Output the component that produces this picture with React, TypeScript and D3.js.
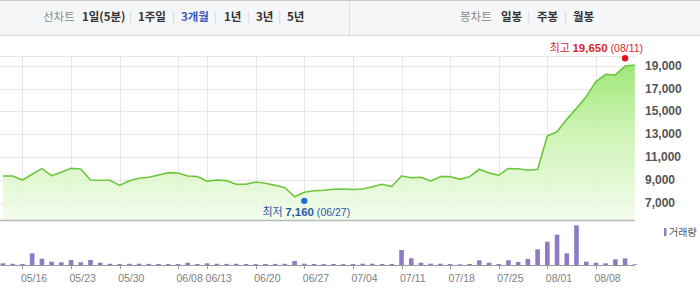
import React from "react";
import * as d3 from "d3";

const dates: string[] = [
  "05/12","05/13","05/16","05/17","05/18","05/19","05/20","05/23","05/24","05/25",
  "05/26","05/27","05/30","05/31","06/01","06/02","06/03","06/07","06/08","06/09",
  "06/10","06/13","06/14","06/15","06/16","06/17","06/20","06/21","06/22","06/23",
  "06/24","06/27","06/28","06/29","06/30","07/01","07/04","07/05","07/06","07/07",
  "07/08","07/11","07/12","07/13","07/14","07/15","07/18","07/19","07/20","07/21",
  "07/22","07/25","07/26","07/27","07/28","07/29","08/01","08/02","08/03","08/04",
  "08/05","08/08","08/09","08/10","08/11","08/12",
];

const closes: number[] = [
  9340, 9340, 8990, 9490, 9980, 9365, 9660, 10010, 9950, 8990,
  8960, 8960, 8520, 8930, 9140, 9225, 9430, 9630, 9600, 9340,
  9300, 8880, 8990, 8930, 8610, 8610, 8810, 8700, 8520, 8310,
  7530, 7910, 8050, 8090, 8175, 8200, 8160, 8200, 8400, 8610,
  8420, 9340, 9180, 9225, 8900, 9280, 9280, 9060, 9280, 9930,
  9600, 9410, 10000, 9970, 9840, 9930, 12840, 13220, 14300, 15270,
  16290, 17600, 18250, 18190, 18970, 19060,
];

const volumes: number[] = [
  170, 120, 100, 1170, 630, 330, 270, 500, 270, 500,
  230, 120, 100, 120, 130, 110, 100, 110, 100, 230,
  100, 170, 120, 110, 120, 100, 90, 100, 110, 120,
  400, 130, 100, 90, 100, 90, 100, 130, 130, 100,
  100, 1500, 670, 230, 130, 130, 100, 70, 100, 470,
  230, 100, 470, 300, 600, 1570, 2330, 3030, 1170, 3970,
  330, 230, 170, 570, 670, 70,
];

const tickDates: string[] = ["05/16","05/23","05/30","06/08","06/13","06/20","06/27","07/04","07/11","07/18","07/25","08/01","08/08"];
const priceTicks: number[] = [7000, 9000, 11000, 13000, 15000, 17000, 19000];

const maxInfo = { label: "최고", value: 19650, date: "08/11" };
const minInfo = { label: "최저", value: 7160, date: "06/27" };

const leftMenu: { t: string; x: number; kind: string }[] = [
  { t: "선차트", x: 43, kind: "title" },
  { t: "1일(5분)", x: 82, kind: "item" },
  { t: "|", x: 129, kind: "sep" },
  { t: "1주일", x: 138, kind: "item" },
  { t: "|", x: 172, kind: "sep" },
  { t: "3개월", x: 181, kind: "active" },
  { t: "|", x: 214, kind: "sep" },
  { t: "1년", x: 224, kind: "item" },
  { t: "|", x: 247, kind: "sep" },
  { t: "3년", x: 256, kind: "item" },
  { t: "|", x: 278, kind: "sep" },
  { t: "5년", x: 287, kind: "item" },
];
const rightMenu: { t: string; x: number; kind: string }[] = [
  { t: "봉차트", x: 460, kind: "title" },
  { t: "일봉", x: 501, kind: "item" },
  { t: "|", x: 527, kind: "sep" },
  { t: "주봉", x: 537, kind: "item" },
  { t: "|", x: 564, kind: "sep" },
  { t: "월봉", x: 573, kind: "item" },
];

const W = 700;
const H = 303;
const plotLeft = 0;
const plotRight = 635;
const priceTop = 56;
const priceBottom = 220;
const volBase = 265;

export default function App() {
  const x = d3.scalePoint<string>().domain(dates).range([3, 634.8]);
  const y = d3.scaleLinear().domain([7000, 19000]).range([202.7, 65.7]);
  const yv = d3.scaleLinear().domain([0, 4000]).range([volBase, volBase - 40]);

  const pts = dates.map((d, i) => ({ d, v: closes[i] }));
  const line = d3.line<{ d: string; v: number }>().x((p) => x(p.d)!).y((p) => y(p.v));
  const area = d3
    .area<{ d: string; v: number }>()
    .x((p) => x(p.d)!)
    .y0(priceBottom)
    .y1((p) => y(p.v));

  const font = "'Noto Sans CJK KR', 'Noto Sans', sans-serif";
  const menuColor = (k: string) =>
    k === "title" ? "#8a8a8a" : k === "active" ? "#3b5bb5" : k === "sep" ? "#d5d5d5" : "#333";

  const maxX = x(maxInfo.date)!;
  const minX = x(minInfo.date)!;

  return (
    <svg
      width={W}
      height={H}
      style={{ position: "absolute", left: 0, top: 0, background: "#fff" }}
      fontFamily={font}
    >
      <defs>
        <linearGradient id="gfill" gradientUnits="userSpaceOnUse" x1="0" y1={priceTop + 6} x2="0" y2={priceBottom}>
          <stop offset="0%" stopColor="#8ee25e" />
          <stop offset="45%" stopColor="#c6f2aa" />
          <stop offset="100%" stopColor="#f1fcea" />
        </linearGradient>
      </defs>

      {/* top menu bar */}
      <rect x={0} y={0} width={W} height={36} fill="#f5f6f8" />
      <line x1={0} x2={W} y1={0.5} y2={0.5} stroke="#c8c8c8" />
      <line x1={0} x2={W} y1={35.5} y2={35.5} stroke="#dcdcdc" />
      <line x1={349.5} x2={349.5} y1={0} y2={35} stroke="#dcdcdc" />
      {[...leftMenu, ...rightMenu].map((m, i) => (
        <text
          key={i}
          x={m.x}
          y={21}
          fontSize={11.5}
          fontWeight={m.kind === "item" || m.kind === "active" ? 700 : 400}
          fill={menuColor(m.kind)}
        >
          {m.t}
        </text>
      ))}

      {/* price grid */}
      <line x1={plotLeft} x2={plotRight} y1={priceTop + 0.5} y2={priceTop + 0.5} stroke="#e8e8e8" />
      {priceTicks.map((t) => (
        <line key={t} x1={plotLeft} x2={plotRight} y1={Math.round(y(t)) + 0.5} y2={Math.round(y(t)) + 0.5} stroke="#e8e8e8" />
      ))}
      {tickDates.map((d) => (
        <line
          key={d}
          x1={Math.round(x(d)!) + 0.5}
          x2={Math.round(x(d)!) + 0.5}
          y1={priceTop}
          y2={priceBottom}
          stroke="#e6e6e6"
        />
      ))}

      {/* area and line */}
      <path d={area(pts)!} fill="url(#gfill)" opacity={0.85} />
      <path d={line(pts)!} fill="none" stroke="#6cc63c" strokeWidth={1.6} strokeLinejoin="round" />

      {/* price axis labels */}
      {priceTicks.map((t) => (
        <text
          key={t}
          x={645}
          y={y(t) + 4}
          fontSize={12}
          fontWeight={700}
          fill="#555"
          fontFamily="'Liberation Sans', Arial, sans-serif"
        >
          {d3.format(",")(t)}
        </text>
      ))}

      {/* max annotation */}
      <circle cx={maxX} cy={y(maxInfo.value)} r={3.2} fill="#e8141b" />
      <text x={maxX + 18} y={52} textAnchor="end" fontSize={11} fill="#d7262c">
        <tspan>{maxInfo.label} </tspan>
        <tspan fontWeight={700} fontFamily="'Liberation Sans', Arial, sans-serif" fontSize={11.5}>
          {d3.format(",")(maxInfo.value)}
        </tspan>
        <tspan fontFamily="'Liberation Sans', Arial, sans-serif" fontSize={10.5}> ({maxInfo.date})</tspan>
      </text>

      {/* min annotation */}
      <circle cx={minX} cy={y(minInfo.value)} r={3.2} fill="#1f6fd6" />
      <text x={minX + 2} y={215.5} textAnchor="middle" fontSize={11} fill="#2d5aa8">
        <tspan>{minInfo.label} </tspan>
        <tspan fontWeight={700} fontFamily="'Liberation Sans', Arial, sans-serif" fontSize={11.5}>
          {d3.format(",")(minInfo.value)}
        </tspan>
        <tspan fontFamily="'Liberation Sans', Arial, sans-serif" fontSize={10.5}> ({minInfo.date})</tspan>
      </text>

      {/* panel divider */}
      <line x1={plotLeft} x2={plotRight} y1={220.5} y2={220.5} stroke="#b9b9b9" strokeWidth={1.5} />

      {/* volume bars */}
      {dates.map((d, i) => (
        <rect
          key={d}
          x={x(d)! - 2.3}
          y={yv(volumes[i])}
          width={4.6}
          height={volBase - yv(volumes[i])}
          fill="#8f7bc4"
        />
      ))}
      <line x1={plotLeft} x2={plotRight} y1={volBase + 0.5} y2={volBase + 0.5} stroke="#9a9a9a" />
      {tickDates.map((d) => (
        <g key={d}>
          <line
            x1={Math.round(x(d)!) + 0.5}
            x2={Math.round(x(d)!) + 0.5}
            y1={volBase}
            y2={volBase + 4}
            stroke="#9a9a9a"
          />
          <text
            x={x(d)! - 1.5}
            y={281.5}
            fontSize={10.5}
            fill="#808080"
            fontFamily="'Liberation Sans', Arial, sans-serif"
          >
            {d}
          </text>
        </g>
      ))}

      {/* legend */}
      <rect x={664} y={228} width={2.5} height={8} fill="#8f7bc4" />
      <text x={669} y={235.5} fontSize={10} fill="#555">
        거래량
      </text>
    </svg>
  );
}
